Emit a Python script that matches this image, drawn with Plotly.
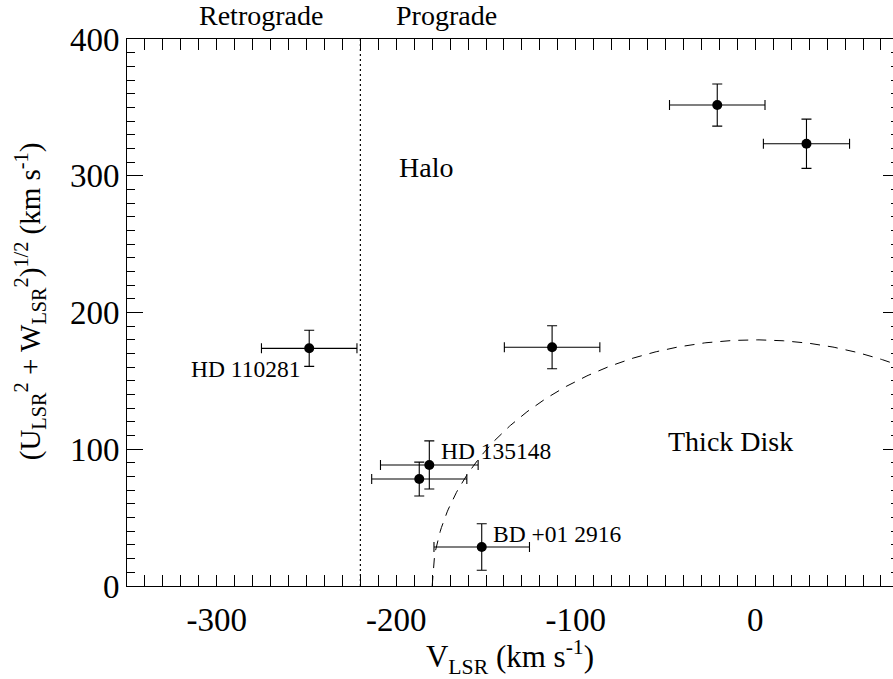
import numpy as np
import plotly.graph_objects as go

# Stellar kinematics: V_LSR vs sqrt(U^2 + W^2), in km/s
v_lsr = [-248.5, -113.2, -21.2, 28.5, -181.6, -187.2, -152.4]
v_err = [26.6, 26.6, 26.6, 24.0, 27.2, 26.5, 26.6]
uw_tot = [173.8, 174.6, 351.7, 323.4, 88.5, 78.2, 28.5]
uw_err = [13.2, 15.7, 15.4, 18.0, 17.6, 12.4, 17.0]

# Named stars: (label, V, UW, x-anchor)
star_names = ["HD 110281", "HD 135148", "BD +01 2916"]
star_label_v = [-252.6, -176.0, -147.2]
star_label_uw = [159.0, 98.7, 38.2]
star_label_anchor = ["right", "left", "left"]

# Region labels
region_names = ["Halo", "Thick Disk"]
region_v = [-199.6, -49.6]
region_uw = [306.0, 106.0]

# Orbit-sense labels above the frame
sense_names = ["Retrograde", "Prograde"]
sense_v = [-275.1, -172.0]

# Boundaries
v_zero_rotation = -220.0      # retrograde / prograde divide
thick_disk_vtot = 180.0       # |v_total| limit of the thick disk

x_range = [-350, 76.7]
y_range = [0, 400]
x_ticks = [-300, -200, -100, 0]
x_tick_text = ["-300", "-200", "-100", "0"]
y_ticks = [0, 100, 200, 300, 400]

x_title = "V<sub>LSR</sub> (km s<sup>-1</sup>)"
y_title = ("(U<sub>LSR</sub><sup>2</sup> + W<sub>LSR</sub><sup>2</sup>)"
           "<sup>1/2</sup> (km s<sup>-1</sup>)")

FONT = "Liberation Serif"

fig = go.Figure()

# Thick-disk boundary: V^2 + U^2 + W^2 = 180^2
v_curve = np.linspace(-thick_disk_vtot, x_range[1], 400)
uw_curve = np.sqrt(np.clip(thick_disk_vtot**2 - v_curve**2, 0, None))
fig.add_trace(go.Scatter(
    x=v_curve, y=uw_curve, mode="lines",
    line=dict(color="black", width=1, dash="10px,8px"),
    hoverinfo="skip", showlegend=False,
))

fig.add_trace(go.Scatter(
    x=v_lsr, y=uw_tot, mode="markers",
    marker=dict(color="black", size=10, line=dict(width=0)),
    error_x=dict(type="data", array=v_err, color="black", thickness=1.1, width=5),
    error_y=dict(type="data", array=uw_err, color="black", thickness=1.1, width=5),
    showlegend=False,
))

# Empty trace to carry the right-hand tick axis
fig.add_trace(go.Scatter(x=[], y=[], yaxis="y2", showlegend=False, hoverinfo="skip"))

fig.add_shape(type="line", xref="x", yref="y",
              x0=v_zero_rotation, x1=v_zero_rotation, y0=y_range[0], y1=y_range[1],
              line=dict(color="black", width=1.2, dash="2px,3px"))

for name, vx, vy, anc in zip(star_names, star_label_v, star_label_uw, star_label_anchor):
    fig.add_annotation(x=vx, y=vy, text=name, showarrow=False, xanchor=anc,
                       yanchor="middle", font=dict(family=FONT, size=23.5, color="black"))

for name, vx, vy in zip(region_names, region_v, region_uw):
    fig.add_annotation(x=vx, y=vy, text=name, showarrow=False, xanchor="left",
                       yanchor="middle", font=dict(family=FONT, size=28, color="black"))

for name, vx in zip(sense_names, sense_v):
    fig.add_annotation(x=vx, xref="x", y=1.043, yref="y domain", text=name,
                       showarrow=False, xanchor="center", yanchor="middle",
                       font=dict(family=FONT, size=28, color="black"))

# Vertical axis title, placed beside the tick labels
fig.add_annotation(x=-0.127, xref="paper", y=0.52, yref="paper", text=y_title,
                   textangle=-90, showarrow=False, xanchor="center", yanchor="middle",
                   font=dict(family=FONT, size=29, color="black"))

fig.update_layout(
    width=893, height=679,
    margin=dict(l=127, r=0, t=39, b=93),
    paper_bgcolor="white", plot_bgcolor="white",
    font=dict(family=FONT, color="black"),
    xaxis=dict(
        range=x_range, tickvals=x_ticks, ticktext=x_tick_text,
        ticks="inside", ticklen=11, tickwidth=1,
        tickcolor="black", showline=True, linecolor="black", linewidth=1,
        mirror="allticks", showgrid=False, zeroline=False,
        minor=dict(dtick=10, ticks="inside", ticklen=5.5, tickcolor="black", showgrid=False),
        tickfont=dict(family=FONT, size=33), ticklabelstandoff=4,
        title=dict(text=x_title, font=dict(family=FONT, size=31), standoff=0),
    ),
    yaxis=dict(
        range=y_range, tickvals=y_ticks, ticks="inside", ticklen=15.5, tickwidth=1,
        tickcolor="black", showline=True, linecolor="black", linewidth=1,
        mirror=False, showgrid=False, zeroline=False,
        minor=dict(dtick=10, ticks="inside", ticklen=7.5, tickcolor="black", showgrid=False),
        tickfont=dict(family=FONT, size=33),
    ),
    yaxis2=dict(
        overlaying="y", side="right", anchor="x", range=y_range, tickvals=y_ticks,
        ticks="inside", ticklen=10, tickwidth=1, tickcolor="black",
        showline=False, showgrid=False, zeroline=False, showticklabels=False,
        minor=dict(dtick=10, ticks="inside", ticklen=2, tickcolor="black", showgrid=False),
    ),
)

fig.write_html("out.html")
